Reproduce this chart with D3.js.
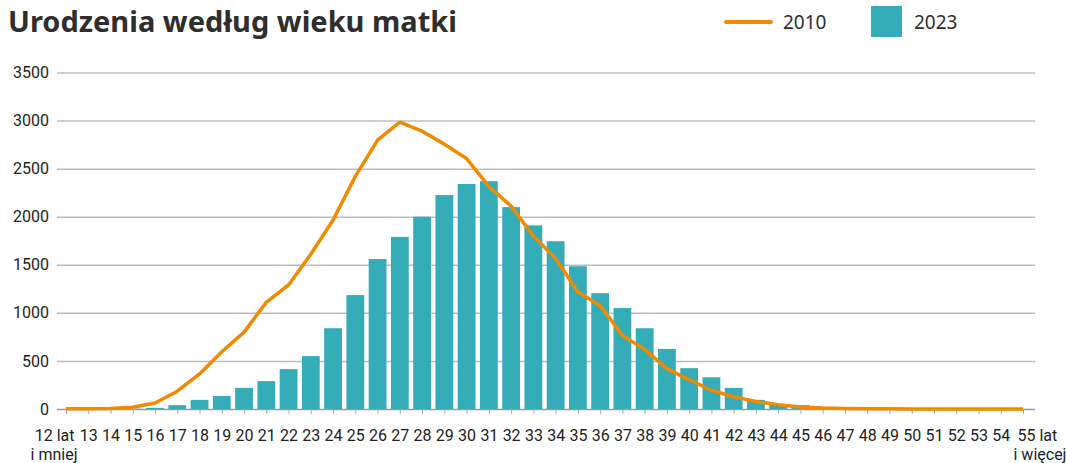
<!DOCTYPE html>
<html>
<head>
<meta charset="utf-8">
<script src="https://cdn.jsdelivr.net/npm/d3@7"></script>
<style>
  body { margin: 0; background: #fff; }
  svg { display: block; }
  .title { font-family: 'Noto Sans', sans-serif; font-weight: 700; font-size: 29px; fill: #2e2e2e; }
  .legend { font-family: 'Noto Sans', sans-serif; font-size: 19px; fill: #2e2e2e; }
  .lbl { font-family: Roboto, 'Liberation Sans', sans-serif; font-size: 16px; fill: #222; }
</style>
</head>
<body>
<div id="chart"></div>
<script>
// wiek matki
const ages = [12, 13, 14, 15, 16, 17, 18, 19, 20, 21, 22, 23, 24, 25, 26, 27, 28, 29, 30, 31, 32, 33,
  34, 35, 36, 37, 38, 39, 40, 41, 42, 43, 44, 45, 46, 47, 48, 49, 50, 51, 52, 53, 54, 55]

// urodzenia 2023 (słupki)
const births2023 = [0, 0, 0, 3, 12, 40, 95, 135, 220, 290, 415, 550, 840, 1185, 1560, 1790, 2000, 2225, 2340, 2370, 2100, 1910,
  1745, 1485, 1205, 1050, 840, 625, 425, 330, 220, 95, 50, 40, 8, 3, 1, 0, 0, 0, 0, 0, 0, 0]

// urodzenia 2010 (linia)
const births2010 = [2, 3, 6, 18, 62, 185, 365, 595, 800, 1110, 1290, 1610, 1965, 2420, 2796, 2983, 2890, 2755, 2605, 2315, 2110, 1800,
  1565, 1220, 1075, 765, 620, 420, 305, 195, 128, 78, 45, 22, 10, 5, 3, 2, 1, 1, 0, 0, 0, 0]

const yTicks = [0, 500, 1000, 1500, 2000, 2500, 3000, 3500]

const W = 1066
const H = 463
const orange = '#f08a00'
const teal = '#34adb8'

const svg = d3.select('#chart').append('svg')
  .attr('width', W)
  .attr('height', H)

const x = d3.scalePoint().domain(ages).range([66, 1023])
const y = d3.scaleLinear().domain([0, 3500]).range([409, 72.5])
const barW = x.step() * 0.8

// tytuł
svg.append('text').attr('class', 'title')
  .attr('x', 8).attr('y', 32)
  .text('Urodzenia według wieku matki')

// legenda
svg.append('line')
  .attr('x1', 726).attr('x2', 771).attr('y1', 22).attr('y2', 22)
  .attr('stroke', orange).attr('stroke-width', 4).attr('stroke-linecap', 'round')
svg.append('text').attr('class', 'legend').attr('x', 783).attr('y', 29).text('2010')
svg.append('rect').attr('x', 871).attr('y', 6).attr('width', 31).attr('height', 31).attr('fill', teal)
svg.append('text').attr('class', 'legend').attr('x', 914).attr('y', 29).text('2023')

// siatka i oś Y
const yAxis = svg.append('g')
  .attr('transform', 'translate(57,0)')
  .call(d3.axisLeft(y).tickValues(yTicks).tickFormat(d3.format('d')).tickSize(-978).tickPadding(8))
yAxis.select('.domain').remove()
yAxis.selectAll('.tick line')
  .attr('stroke', d => d === 0 ? '#999' : '#bdbdbd')
  .attr('stroke-width', 1.5)
yAxis.selectAll('.tick text').attr('class', 'lbl').attr('font-size', null).attr('font-family', null)
  .attr('fill', '#222')

// słupki 2023
svg.append('g').selectAll('rect')
  .data(births2023)
  .join('rect')
  .attr('x', (d, i) => x(ages[i]) - barW / 2)
  .attr('width', barW)
  .attr('y', d => y(d))
  .attr('height', d => y(0) - y(d))
  .attr('fill', teal)

// oś X
const xAxis = svg.append('g')
  .attr('transform', `translate(0,${y(0)})`)
  .call(d3.axisBottom(x).tickSize(5).tickPadding(16))
xAxis.select('.domain').remove()
xAxis.selectAll('.tick line').attr('stroke', '#aaa').attr('stroke-width', 1)
xAxis.selectAll('.tick text').attr('class', 'lbl').attr('font-size', null).attr('font-family', null)
  .attr('fill', '#222')
  .each(function (d) {
    const t = d3.select(this)
    if (d === 12) {
      t.text(null).attr('text-anchor', 'end').attr('dx', 8)
      t.append('tspan').text('12 lat')
      t.append('tspan').attr('x', 11).attr('dy', 19).text('i mniej')
    } else if (d === 55) {
      t.text(null).attr('text-anchor', 'start').attr('dx', -6)
      t.append('tspan').text('55 lat')
      t.append('tspan').attr('x', -10).attr('dy', 19).text('i więcej')
    }
  })

// linia 2010
const line = d3.line()
  .x((d, i) => x(ages[i]))
  .y(d => y(d))

svg.append('path')
  .datum(births2010)
  .attr('fill', 'none')
  .attr('stroke', orange)
  .attr('stroke-width', 3.5)
  .attr('stroke-linejoin', 'round')
  .attr('d', line)
</script>
</body>
</html>
